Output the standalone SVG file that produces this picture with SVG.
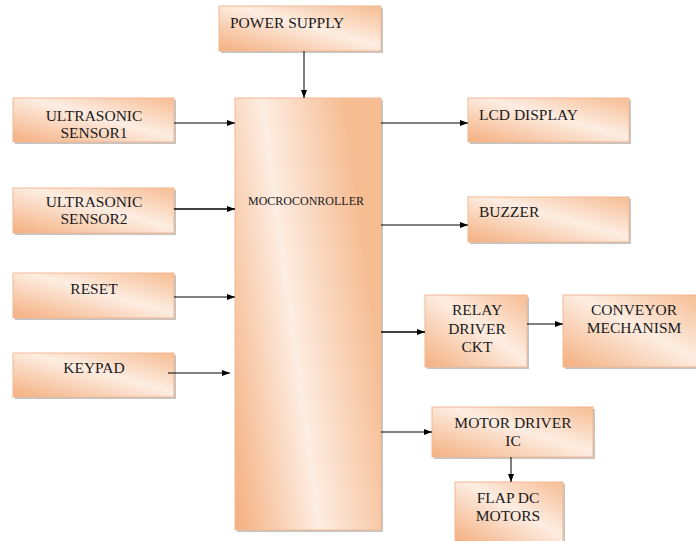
<svg xmlns="http://www.w3.org/2000/svg" width="696" height="541" viewBox="0 0 696 541">
<defs>
<linearGradient id="g" x1="0" y1="1" x2="1" y2="0">
<stop offset="0" stop-color="#F4AF7F"/>
<stop offset="0.55" stop-color="#FDEDE2"/>
<stop offset="1" stop-color="#F6BC92"/>
</linearGradient>
<linearGradient id="gm" x1="0" y1="1" x2="1" y2="0.6">
<stop offset="0" stop-color="#F4AF7F"/>
<stop offset="0.5" stop-color="#FDEDE2"/>
<stop offset="1" stop-color="#F6BC92"/>
</linearGradient>
<marker id="ah" viewBox="0 0 8 6" refX="8" refY="3" markerWidth="8" markerHeight="6" markerUnits="userSpaceOnUse" orient="auto">
<path d="M0,0 L8,3 L0,6 z" fill="#000"/>
</marker>
</defs>
<style>
.sh{fill:#c4c4c4}
.bx{fill:url(#g);stroke:#F2B891;stroke-width:1}
.t{font-family:"Liberation Serif","Times New Roman",serif;font-size:15.5px;fill:#1a1a1a}
.c{text-anchor:middle}
.ln{stroke:#000;stroke-width:1;fill:none;marker-end:url(#ah)}
.lt{stroke:#000;stroke-width:1.6;fill:none;marker-end:url(#ah)}
</style>
<rect width="696" height="541" fill="#fff"/>
<g id="power">
<rect class="sh" x="221" y="8" width="162" height="45"/>
<rect class="bx" x="219" y="6" width="162" height="45"/>
<text class="t" x="230" y="28">POWER SUPPLY</text>
</g>
<g id="micro">
<rect class="sh" x="237" y="100" width="146" height="432"/>
<rect class="bx" x="235" y="98" width="146" height="432" style="fill:url(#gm)"/>
<text class="t c" x="306" y="205" style="font-size:12px">MOCROCONROLLER</text>
</g>
<g id="us1">
<rect class="sh" x="15" y="100" width="161" height="44"/>
<rect class="bx" x="13" y="98" width="161" height="44"/>
<text class="t c" x="94" y="121">ULTRASONIC</text>
<text class="t c" x="94" y="138">SENSOR1</text>
</g>
<g id="us2">
<rect class="sh" x="15" y="190" width="161" height="45"/>
<rect class="bx" x="13" y="188" width="161" height="45"/>
<text class="t c" x="94" y="207">ULTRASONIC</text>
<text class="t c" x="94" y="224">SENSOR2</text>
</g>
<g id="reset">
<rect class="sh" x="15" y="275" width="161" height="45"/>
<rect class="bx" x="13" y="273" width="161" height="45"/>
<text class="t c" x="94" y="294">RESET</text>
</g>
<g id="keypad">
<rect class="sh" x="15" y="355" width="161" height="44"/>
<rect class="bx" x="13" y="353" width="161" height="44"/>
<text class="t c" x="94" y="373">KEYPAD</text>
</g>
<g id="lcd">
<rect class="sh" x="470" y="100" width="161" height="44"/>
<rect class="bx" x="468" y="98" width="161" height="44"/>
<text class="t" x="479" y="120">LCD DISPLAY</text>
</g>
<g id="buzzer">
<rect class="sh" x="470" y="199" width="161" height="45"/>
<rect class="bx" x="468" y="197" width="161" height="45"/>
<text class="t" x="479" y="217">BUZZER</text>
</g>
<g id="relay">
<rect class="sh" x="427" y="297" width="102" height="72"/>
<rect class="bx" x="425" y="295" width="102" height="72"/>
<text class="t c" x="477" y="315">RELAY</text>
<text class="t c" x="477" y="334">DRIVER</text>
<text class="t c" x="477" y="352">CKT</text>
</g>
<g id="conveyor">
<rect class="sh" x="565" y="297" width="135" height="72"/>
<rect class="bx" x="563" y="295" width="135" height="72"/>
<text class="t c" x="634" y="315">CONVEYOR</text>
<text class="t c" x="634" y="333">MECHANISM</text>
</g>
<g id="motordriver">
<rect class="sh" x="434" y="409" width="161" height="50"/>
<rect class="bx" x="432" y="407" width="161" height="50"/>
<text class="t c" x="513" y="428">MOTOR DRIVER</text>
<text class="t c" x="513" y="446">IC</text>
</g>
<g id="flap">
<rect class="sh" x="457" y="484" width="108" height="60"/>
<rect class="bx" x="455" y="482" width="108" height="60"/>
<text class="t c" x="508" y="503">FLAP DC</text>
<text class="t c" x="508" y="521">MOTORS</text>
</g>
<g id="connectors">
<line class="ln" x1="304" y1="51" x2="304" y2="98"/>
<line class="ln" x1="174" y1="123" x2="235" y2="123"/>
<line class="lt" x1="174" y1="209" x2="235" y2="209"/>
<line class="ln" x1="174" y1="297" x2="235" y2="297"/>
<line class="ln" x1="168" y1="373" x2="230" y2="373"/>
<line class="ln" x1="381" y1="123" x2="468" y2="123"/>
<line class="ln" x1="381" y1="225" x2="468" y2="225"/>
<line class="lt" x1="381" y1="332" x2="425" y2="332"/>
<line class="ln" x1="527" y1="324" x2="563" y2="324"/>
<line class="ln" x1="381" y1="432" x2="432" y2="432"/>
<line class="ln" x1="511" y1="457" x2="511" y2="482"/>
</g>
</svg>
